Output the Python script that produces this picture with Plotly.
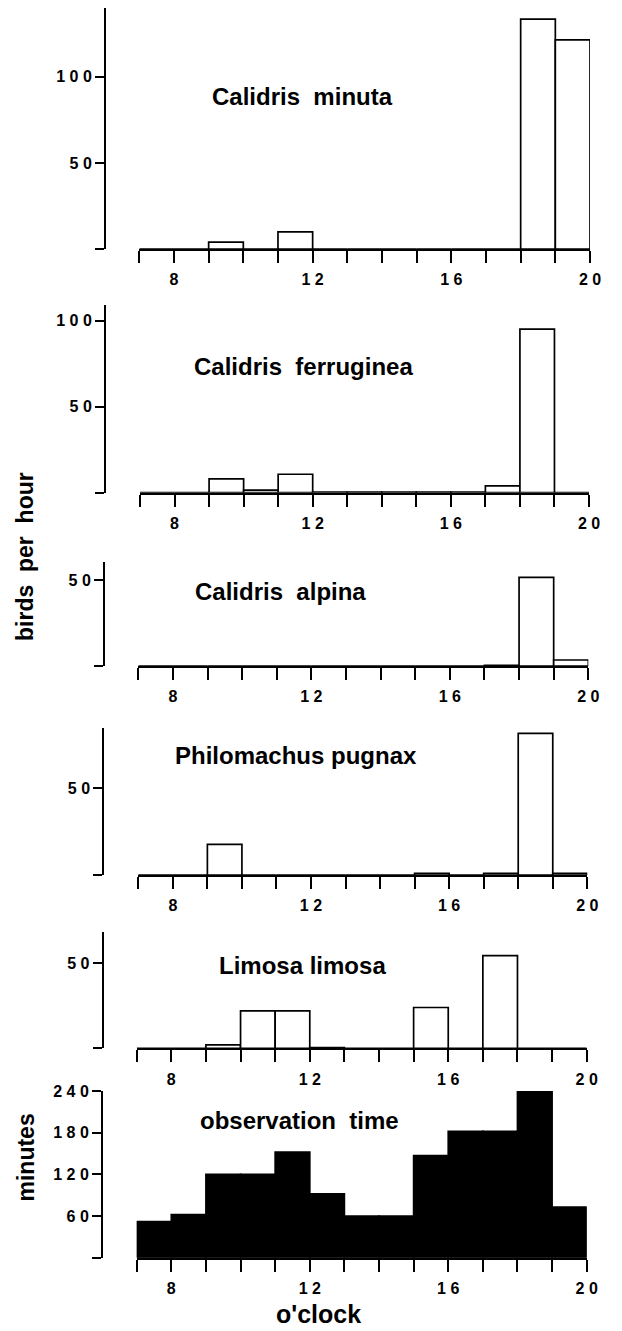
import plotly.graph_objects as go

W, H = 622, 1331

hours = list(range(7, 20))  # bin starts, each bin one hour wide

minuta = [0, 0, 4, 0, 10, 0, 0, 0, 0, 0, 0, 133.5, 121.5]
ferruginea = [0, 0, 8, 1.5, 10.7, 0.3, 0.3, 0.3, 0.3, 0.3, 4, 95, 0]
alpina = [0, 0, 0, 0, 0, 0, 0, 0, 0, 0, 0.4, 51.5, 3.5]
pugnax = [0, 0, 17.7, 0, 0, 0, 0, 0, 1, 0, 1, 81.7, 1]
limosa = [0, 0, 2, 22, 22, 0.4, 0, 0, 24, 0, 54.5, 0, 0]
obs_minutes = [52, 62, 120, 120, 152, 92, 60, 60, 147, 182, 182, 240, 73]

NB = "\u00a0"
titles = ["Calidris" + NB * 2 + "minuta", "Calidris" + NB * 2 + "ferruginea", "Calidris" + NB * 2 + "alpina",
          "Philomachus" + NB + "pugnax", "Limosa" + NB + "limosa", "observation" + NB * 2 + "time"]
series = [minuta, ferruginea, alpina, pugnax, limosa, obs_minutes]
ymax = [140, 109, 60.6, 84.6, 68.6, 240]
ytickvals = [[0, 50, 100], [0, 50, 100], [0, 50], [0, 50], [0, 50], [0, 60, 120, 180, 240]]
yticktext = [["", "5 0", "1 0 0"], ["", "5 0", "1 0 0"], ["", "5 0"], ["", "5 0"], ["", "5 0"],
             ["", "6 0", "1 2 0", "1 8 0", "2 4 0"]]
xtickvals = list(range(7, 21))
xticktext = ["", "8", "", "", "", "1 2", "", "", "", "1 6", "", "", "", "2 0"]

# layout geometry (pixels)
x7 = [139.3, 140, 138.3, 138.3, 136.7, 136.7]
x20 = [590, 589, 588.3, 587.3, 586.7, 586.7]
yax = [105, 105, 104, 103.3, 102.7, 102]
ytop = [8, 305, 561.7, 728.3, 931.7, 1091]
yzero = [249, 492.7, 666, 875, 1048.3, 1257.7]
title_pos = [(210, 96.7), (191.7, 366.7), (193, 591.7), (173, 755), (216.7, 965), (198, 1120)]

FONT = "Liberation Sans, Arial, Helvetica, sans-serif"

fig = go.Figure()
layout = dict(width=W, height=H, autosize=False, margin=dict(l=0, r=0, t=0, b=0, pad=0),
              plot_bgcolor="white", paper_bgcolor="white", showlegend=False,
              font=dict(family=FONT, color="black"), bargap=0)

annotations = []
for i in range(6):
    n = i + 1
    xa = "x" if n == 1 else f"x{n}"
    ya = "y" if n == 1 else f"y{n}"
    filled = (i == 5)
    fig.add_trace(go.Bar(
        x=[h + 0.5 for h in hours], y=series[i], width=1,
        xaxis=xa, yaxis=ya,
        marker=dict(color="black" if filled else "white",
                    line=dict(color="black", width=1.7)),
        hoverinfo="skip"))
    layout["xaxis" if n == 1 else f"xaxis{n}"] = dict(
        domain=[x7[i] / W, x20[i] / W], range=[7, 20], anchor=ya,
        automargin=False,
        showline=True, linecolor="black", linewidth=2,
        ticks="outside", ticklen=12, tickwidth=2, tickcolor="black",
        tickvals=xtickvals, ticktext=xticktext,
        tickfont=dict(size=16, family=FONT, weight="bold"),
        ticklabelstandoff=3,
        showgrid=False, zeroline=False, fixedrange=True)
    layout["yaxis" if n == 1 else f"yaxis{n}"] = dict(
        domain=[1 - yzero[i] / H, 1 - ytop[i] / H], range=[0, ymax[i]],
        anchor="free", position=yax[i] / W, automargin=False,
        showline=True, linecolor="black", linewidth=2,
        ticks="outside", ticklen=9, tickwidth=2, tickcolor="black",
        tickvals=ytickvals[i], ticktext=yticktext[i],
        tickfont=dict(size=16, family=FONT, weight="bold"),
        showgrid=False, zeroline=False, fixedrange=True)
    tx, ty = title_pos[i]
    annotations.append(dict(text=titles[i], x=tx / W, y=1 - ty / H, xref="paper", yref="paper",
                            xanchor="left", yanchor="middle", showarrow=False,
                            font=dict(size=24, family=FONT, weight="bold", color="black")))

annotations.append(dict(text="birds" + NB * 2 + "per" + NB * 2 + "hour", x=25 / W, y=1 - 557 / H,
                        xref="paper", yref="paper",
                        xanchor="center", yanchor="middle", showarrow=False, textangle=-90,
                        font=dict(size=23, family=FONT, weight="bold", color="black")))
annotations.append(dict(text="minutes", x=25 / W, y=1 - 1157.5 / H, xref="paper", yref="paper",
                        xanchor="center", yanchor="middle", showarrow=False, textangle=-90,
                        font=dict(size=23, family=FONT, weight="bold", color="black")))
annotations.append(dict(text="o'clock", x=318 / W, y=1 - 1314 / H, xref="paper", yref="paper",
                        xanchor="center", yanchor="middle", showarrow=False,
                        font=dict(size=25, family=FONT, weight="bold", color="black")))
layout["annotations"] = annotations

fig.update_layout(**layout)
fig.write_html("out.html", config={"displayModeBar": False, "staticPlot": True},
               post_script="document.body.style.margin='0';document.body.style.overflow='hidden';")
